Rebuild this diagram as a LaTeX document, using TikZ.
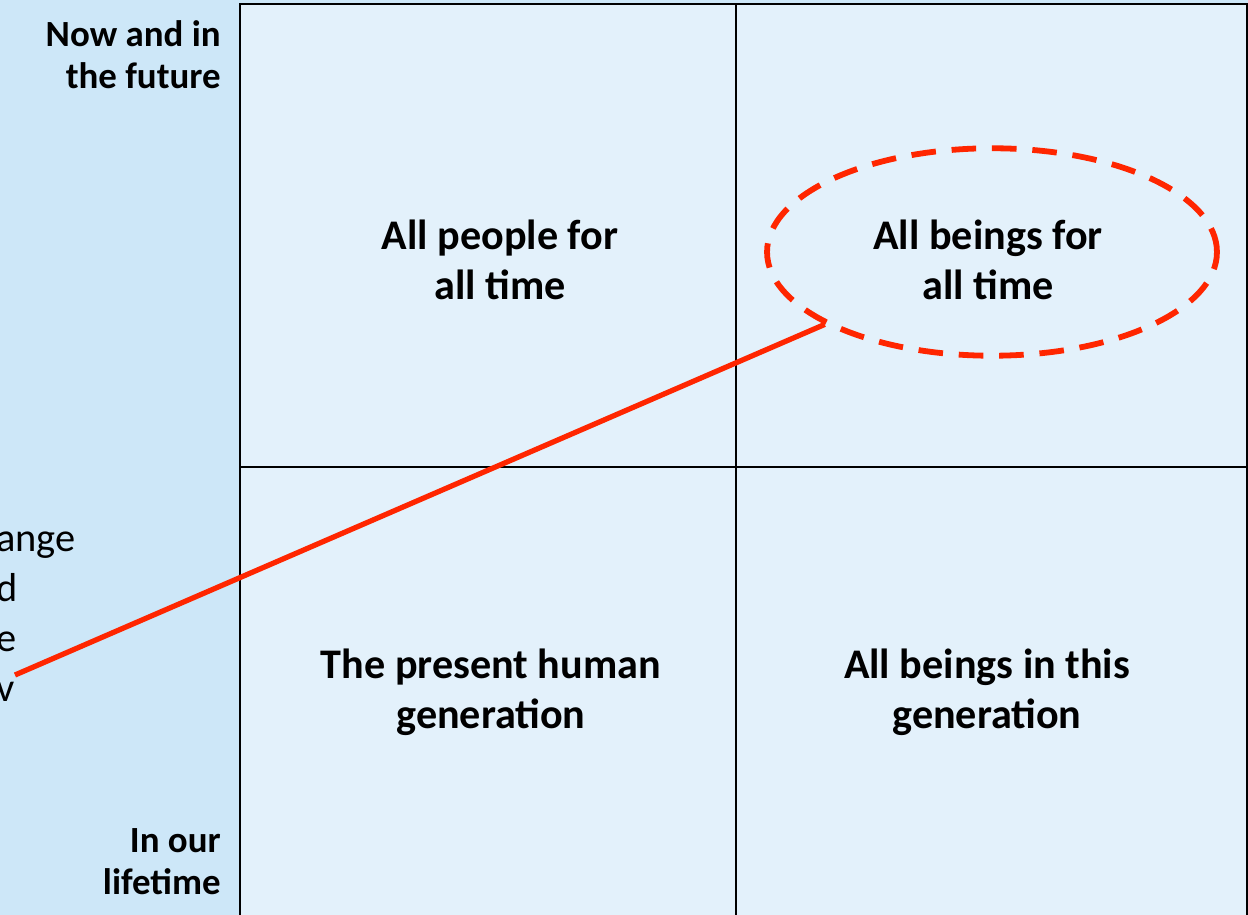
\documentclass[tikz,border=0pt]{standalone}
\usepackage{fontspec}
\setmainfont{Carlito}
\usetikzlibrary{shapes.geometric}
\definecolor{sideBlue}{RGB}{205,231,248}
\definecolor{cellBlue}{RGB}{227,241,251}
\definecolor{markRed}{RGB}{255,38,0}
\newcommand{\gridwd}{1.4pt}
\newcommand{\markwd}{3pt}

\begin{document}
\begin{tikzpicture}[x=0.02cm, y=-0.02cm,
    cell/.style={align=center, inner sep=0pt, font=\bfseries\fontsize{24}{28.5}\selectfont},
    side/.style={align=right, anchor=east, inner sep=0pt, font=\bfseries\fontsize{21}{24}\selectfont}]
    % background and the two by two grid
        \useasboundingbox (0,0) rectangle (1248,915);
        \fill[sideBlue] (0,0) rectangle (1248,915);
        \fill[cellBlue] (240,4) rectangle (1247,930);
        \draw[line width=\gridwd]
        (240,930) -- (240,4) -- (1247,4) -- (1247,930)
        (736,4) -- (736,930)
        (240,467) -- (1247,467);

    % labels of the time axis
        \node (now) at (221,55) [side] {Now and in\\the future};
        \node (life) at (221,862) [side] {In our\\lifetime};
        \node (cut) at (-4,617) [align=left, anchor=west, inner sep=0pt,
              font=\fontsize{23}{28.5}\selectfont] {ange\\d\\e\\v};

    % the four cells
        \node (ppl) at (500,260) [cell] {All people for\\all time};
        \node (all) at (988,260) [cell] {All beings for\\all time};
        \node (hum) at (491,692) [cell] {The present human\\generation};
        \node (gen) at (987,692) [cell] {All beings in this\\generation};

    % red callout
        \node (ring) at (992,252) [ellipse, draw=markRed, line width=3.3pt,
              dash pattern=on 14pt off 9pt, minimum width=9cm, minimum height=4.15cm] {};
        \coordinate (tail) at (15,675);
        \draw[markRed, line width=\markwd] (tail) -- (ring);

  \end{tikzpicture}
\end{document}
